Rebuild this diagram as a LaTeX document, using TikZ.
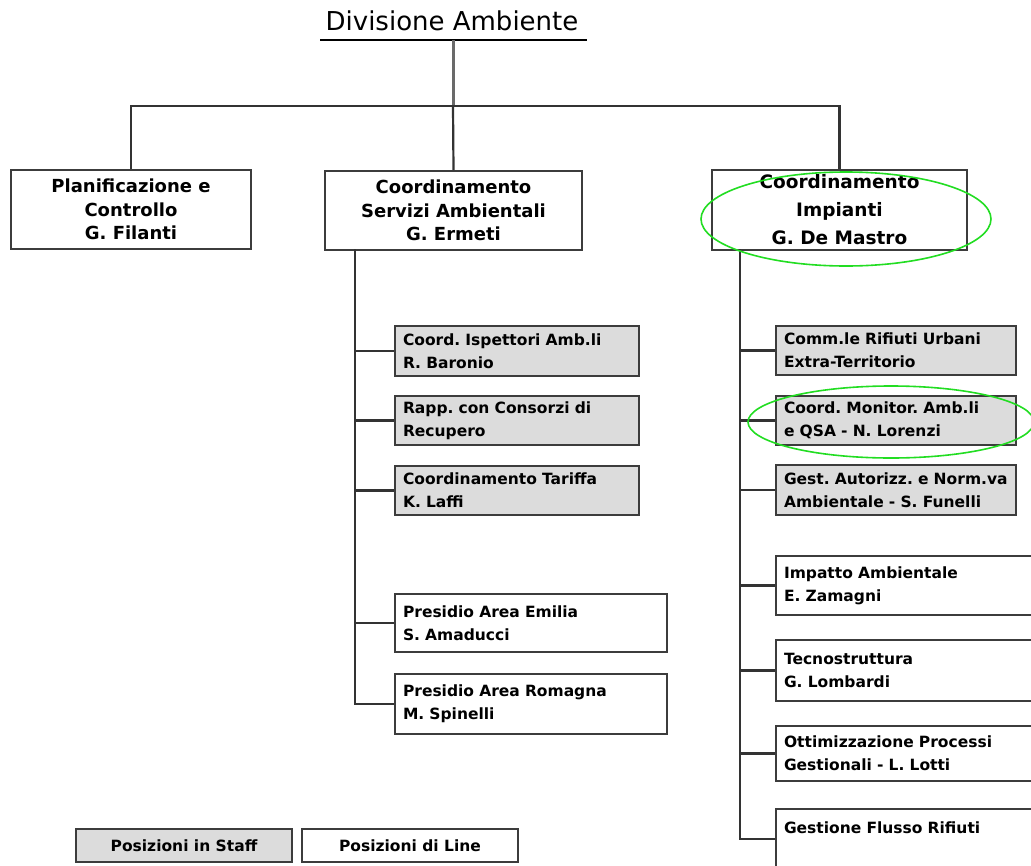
\documentclass[tikz,border=0pt]{standalone}
\usepackage{fontspec}
\setmainfont{DejaVu Sans}
\frenchspacing
\definecolor{boxgray}{HTML}{DCDCDC}
\definecolor{edge}{HTML}{3C3C3C}
\definecolor{linkc}{HTML}{333333}
\definecolor{stemc}{HTML}{6A6A6A}
\definecolor{ringgreen}{HTML}{22DD22}
\tikzset{
  topbox/.style={draw=edge, line width=2pt, fill=white, align=center,
    font=\fontsize{18}{23.5}\selectfont\bfseries, inner sep=0pt, anchor=north west},
  staffbox/.style={draw=edge, line width=2pt, fill=boxgray, align=left,
    font=\fontsize{15.5}{23}\selectfont\bfseries, inner xsep=8pt, inner ysep=0pt, anchor=north west},
  linebox/.style={staffbox, fill=white},
  legendbox/.style={draw=edge, line width=2pt, align=center,
    font=\fontsize{15.5}{18}\selectfont\bfseries, inner sep=0pt, anchor=north west,
    minimum width=216pt, minimum height=33pt},
  link/.style={draw=linkc, line width=2.2pt},
  ring/.style={draw=ringgreen, line width=1.6pt},
}
\begin{document}
\begin{tikzpicture}[x=1pt,y=-1pt]
\useasboundingbox (0,0) rectangle (1031,865);
\clip (0,0) rectangle (1031,865);
\fill[white] (0,0) rectangle (1031,865);

% title
\node[font=\fontsize{26}{30}\selectfont, inner sep=0pt] (title) at (452,21) {Divisione Ambiente};
\coordinate (ul) at (453,40);
\coordinate (bar) at (453,106);
\draw[black, line width=1.6pt] (320,40) -- (587,40);

% top level boxes
\node[topbox, minimum width=240pt, minimum height=79pt] (lbox) at (10,169)
  {Planificazione e\\Controllo\\G. Filanti};
\node[topbox, minimum width=257pt, minimum height=79pt] (mbox) at (324,170)
  {Coordinamento\\Servizi Ambientali\\G. Ermeti};
\node[topbox, minimum width=255pt, minimum height=80pt,
  font=\fontsize{18.5}{28}\selectfont\bfseries] (rbox) at (711,169)
  {Coordinamento\\Impianti\\G. De Mastro};

% middle column
\node[staffbox, text width=228pt, minimum height=50pt] (m1) at (394,325)
  {Coord. Ispettori Amb.li\\R. Baronio};
\node[staffbox, text width=228pt, minimum height=49pt] (m2) at (394,395)
  {Rapp. con Consorzi di\\Recupero};
\node[staffbox, text width=228pt, minimum height=49pt] (m3) at (394,465)
  {Coordinamento Tariffa\\K. Laffi};
\node[linebox, text width=256pt, minimum height=58pt] (m4) at (394,593)
  {Presidio Area Emilia\\S. Amaducci};
\node[linebox, text width=256pt, minimum height=60pt] (m5) at (394,673)
  {Presidio Area Romagna\\M. Spinelli};

% right column
\node[staffbox, text width=224pt, minimum height=49pt] (r1) at (775,325)
  {Comm.le Rifiuti Urbani\\Extra-Territorio};
\node[staffbox, text width=224pt, minimum height=49pt] (r2) at (775,395)
  {Coord. Monitor. Amb.li\\e QSA - N. Lorenzi};
\node[staffbox, text width=224pt, minimum height=50pt] (r3) at (775,464)
  {\mbox{Gest. Autorizz. e Norm.va}\\\mbox{Ambientale - S. Funelli}};
\node[linebox, text width=264pt, minimum height=59pt] (r4) at (775,555)
  {Impatto Ambientale\\E. Zamagni};
\node[linebox, text width=264pt, minimum height=61pt] (r5) at (775,639)
  {Tecnostruttura\\G. Lombardi};
\node[linebox, text width=264pt, minimum height=55pt] (r6) at (775,725)
  {Ottimizzazione Processi\\Gestionali - L. Lotti};
\node[linebox, text width=264pt, minimum height=60pt] (r7) at (775,808)
  {Gestione Flusso Rifiuti\\\mbox{}};

% legend
\node[legendbox, fill=boxgray] (lg1) at (75,828) {Posizioni in Staff};
\node[legendbox, fill=white] (lg2) at (301,828) {Posizioni di Line};

% connectors
\draw[line width=3pt, draw=stemc] (ul) -- (bar);
\draw[link] (lbox.north) |- (bar) -| (rbox.north);
\draw[link] (bar) -- (mbox.north);

\coordinate (ms) at (355,249);
\draw[link] (ms) |- (m5.west);
\foreach \n in {m1,m2,m3,m4}
  \draw[link] (ms |- \n.west) -- (\n.west);

\coordinate (rs) at (740,249);
\draw[link] (rs) |- (r7.west);
\foreach \n in {r1,r2,r3,r4,r5,r6}
  \draw[link] (rs |- \n.west) -- (\n.west);

% highlight rings
\draw[ring] (846,219) ellipse [x radius=145pt, y radius=47pt];
\draw[ring] (891,422) ellipse [x radius=143pt, y radius=36pt];
\end{tikzpicture}
\end{document}
